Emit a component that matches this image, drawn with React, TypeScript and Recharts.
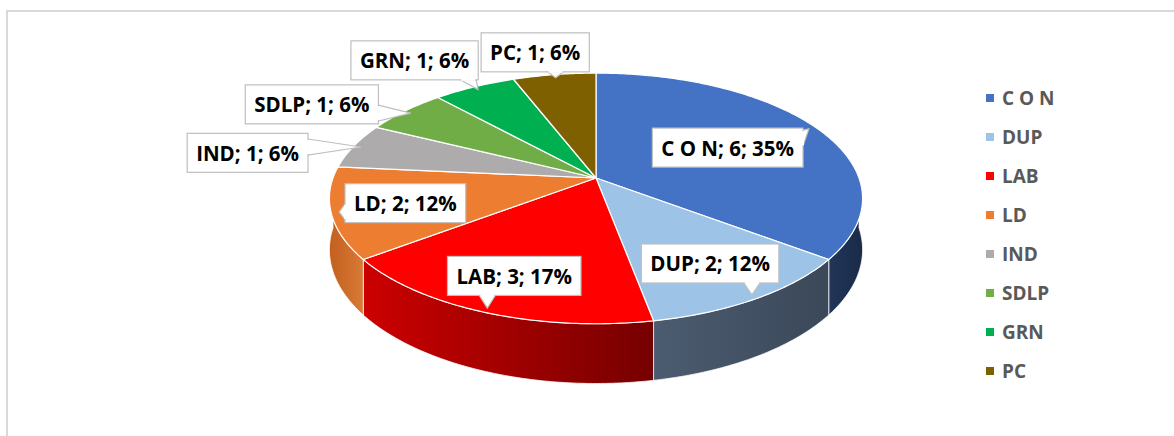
import React from 'react';
import { PieChart, Pie, Cell, Legend } from 'recharts';

// ---------- data ----------
const CATEGORIES = ['C O N', 'DUP', 'LAB', 'LD', 'IND', 'SDLP', 'GRN', 'PC'];
const SEATS = [6, 2, 3, 2, 1, 1, 1, 1];

// ---------- styles ----------
const TOP_COLORS = ['#4472C4', '#9DC3E6', '#FF0000', '#ED7D31', '#ADABAB', '#70AD47', '#00B050', '#7F6000'];
const SIDE_FROM = ['#22365A', '#4C5C70', '#CC0000', '#C2601E', '#7F7F7F', '#4F7B32', '#007A3A', '#5A4400'];
const SIDE_TO = ['#1A2A48', '#3A4859', '#760000', '#D97A37', '#6F6F6F', '#456C2B', '#006830', '#4A3800'];

const FONT = '"Open Sans", "Noto Sans", sans-serif';

// largest-remainder percentages (as Excel displays them, summing to 100)
function roundedPercents(vals: number[]): number[] {
  const total = vals.reduce((a, b) => a + b, 0);
  const exact = vals.map((v) => (v / total) * 100);
  const floors = exact.map((e) => Math.floor(e));
  let left = 100 - floors.reduce((a, b) => a + b, 0);
  const order = exact
    .map((e, i) => ({ i, r: e - Math.floor(e) }))
    .sort((a, b) => b.r - a.r || a.i - b.i);
  const out = floors.slice();
  for (let k = 0; k < order.length && left > 0; k++, left--) out[order[k].i] += 1;
  return out;
}
const PERCENTS = roundedPercents(SEATS);

const data = CATEGORIES.map((name, i) => ({ name, value: SEATS[i] }));

// ---------- geometry (perspective 3D look) ----------
const CX = 596;
const CY = 178; // projected centre of the disc (apex of the slices)
const R = 263;
const TILT_RATIO = 122 / 263; // vertical squash
const PERSP = 0.163; // perspective strength
const DEPTH_RATIO = 50 / 263; // wall height

const RAD = Math.PI / 180;

function proj(cx: number, cy: number, r: number, deg: number, drop = 0) {
  const sn = Math.sin(deg * RAD);
  const cs = Math.cos(deg * RAD);
  const s = 1 / (1 + PERSP * sn);
  return { x: cx + r * cs * s, y: cy - r * TILT_RATIO * sn * s + drop * s };
}

function arcPoints(cx: number, cy: number, r: number, from: number, to: number, drop = 0) {
  const n = Math.max(2, Math.ceil(Math.abs(to - from) / 0.75));
  const pts: string[] = [];
  for (let k = 0; k <= n; k++) {
    const a = from + ((to - from) * k) / n;
    const p = proj(cx, cy, r, a, drop);
    pts.push(`${p.x.toFixed(2)},${p.y.toFixed(2)}`);
  }
  return pts;
}

function Sector3D(props: any) {
  const { cx, cy, outerRadius, startAngle, endAngle, name } = props;
  const idx = Math.max(0, CATEGORIES.indexOf(name));
  const fill = TOP_COLORS[idx];
  const depth = outerRadius * DEPTH_RATIO;
  const a2 = Math.max(startAngle, endAngle);
  const a1 = Math.min(startAngle, endAngle);
  const top = `M${cx},${cy} L${arcPoints(cx, cy, outerRadius, a2, a1).join(' L')} Z`;

  let side: string | null = null;
  const lo = Math.max(a1, -180);
  const hi = Math.min(a2, 0);
  if (hi > lo) {
    const upper = arcPoints(cx, cy, outerRadius, hi, lo);
    const lower = arcPoints(cx, cy, outerRadius, lo, hi, depth);
    side = `M${upper.join(' L')} L${lower.join(' L')} Z`;
  }
  const gid = `side-grad-${idx}`;
  return (
    <g>
      {side && (
        <>
          <defs>
            <linearGradient id={gid} x1="0" y1="0" x2="1" y2="0">
              <stop offset="0%" stopColor={SIDE_FROM[idx]} />
              <stop offset="100%" stopColor={SIDE_TO[idx]} />
            </linearGradient>
          </defs>
          <path d={side} fill={`url(#${gid})`} stroke="#ffffff" strokeWidth={1} strokeOpacity={0.75} strokeLinejoin="round" />
        </>
      )}
      <path d={top} fill={fill} stroke="#ffffff" strokeWidth={1.2} strokeLinejoin="round" />
    </g>
  );
}

// ---------- labels ----------
let measureCtx: CanvasRenderingContext2D | null = null;
function textWidth(t: string, font: string) {
  try {
    if (!measureCtx) measureCtx = document.createElement('canvas').getContext('2d');
    if (measureCtx) {
      measureCtx.font = font;
      return measureCtx.measureText(t).width;
    }
  } catch (e) {
    /* ignore */
  }
  return t.length * 10.5;
}

const LABEL_FONT_SIZE = 20.5;
const BOX_H = 39;
const PAD_X = 9;
const LABEL_GAP = 5;

type Box = { L: number; R: number; T: number; B: number };
const placedBoxes: Record<number, Box> = {};

function renderLabel(props: any) {
  const { cx, cy, outerRadius, midAngle, name, value, index } = props;
  const pct = PERCENTS[index] ?? Math.round((props.percent || 0) * 100);
  const text = `${name}; ${value}; ${pct}%`;
  const w = textWidth(text, `bold ${LABEL_FONT_SIZE}px "Open Sans"`) + PAD_X * 2;
  const h = BOX_H;
  const r = outerRadius;
  // outline ellipse of the projected disc
  const a = r * TILT_RATIO;
  const topY = cy - a / (1 + PERSP);
  const botY = cy + a / (1 - PERSP);
  const ecy = (topY + botY) / 2;
  const ery = (botY - topY) / 2;
  const erx = r / Math.sqrt(1 - PERSP * PERSP);

  const T = proj(cx, cy, r, midAngle);
  const tip = { x: cx + (T.x - cx) * 0.97, y: cy + (T.y - cy) * 0.97 };
  const inside = (props.percent || 0) >= 0.1;
  let c = { x: 0, y: 0 };
  if (inside) {
    const within = (x: number, y: number) => ((x - cx) / erx) ** 2 + ((y - ecy) / ery) ** 2 <= 0.93;
    let f = 0.75;
    for (; f > 0.2; f -= 0.01) {
      const px = cx + (T.x - cx) * f;
      const py = cy + (T.y - cy) * f;
      if (
        within(px - w / 2, py - h / 2) &&
        within(px + w / 2, py - h / 2) &&
        within(px - w / 2, py + h / 2) &&
        within(px + w / 2, py + h / 2)
      )
        break;
    }
    c = { x: cx + (T.x - cx) * f, y: cy + (T.y - cy) * f };
  } else {
    const cs = Math.cos(midAngle * RAD);
    const sn = Math.sin(midAngle * RAD);
    c = { x: T.x + cs * (w / 2 + 50), y: T.y + 18 - 41 * sn };
    // simple collision avoidance with previously placed labels: push upward
    for (let pass = 0; pass < 3; pass++) {
      let moved = false;
      for (let j = 0; j < index; j++) {
        const o = placedBoxes[j];
        if (!o) continue;
        const overlapX = c.x - w / 2 < o.R - 2 && c.x + w / 2 > o.L + 2;
        const overlapY = c.y - h / 2 < o.B + LABEL_GAP && c.y + h / 2 > o.T - LABEL_GAP;
        if (overlapX && overlapY) {
          c.y = o.T - LABEL_GAP - h / 2;
          moved = true;
        }
      }
      if (!moved) break;
    }
  }
  const L = c.x - w / 2;
  const Rt = c.x + w / 2;
  const Tp = c.y - h / 2;
  const B = c.y + h / 2;
  placedBoxes[index] = { L, R: Rt, T: Tp, B };

  const dxo = tip.x < L ? L - tip.x : tip.x > Rt ? tip.x - Rt : 0;
  const dyo = tip.y < Tp ? Tp - tip.y : tip.y > B ? tip.y - B : 0;
  let wedge: { b1: { x: number; y: number }; b2: { x: number; y: number } } | null = null;
  const half = 8;
  if (dxo > 0 || dyo > 0) {
    if (dyo >= dxo) {
      const ey = tip.y < Tp ? Tp : B;
      const bx = Math.min(Math.max(tip.x, L + half + 2), Rt - half - 2);
      wedge = { b1: { x: bx - half, y: ey }, b2: { x: bx + half, y: ey } };
    } else {
      const ex = tip.x < L ? L : Rt;
      const by = Math.min(Math.max(tip.y, Tp + half + 2), B - half - 2);
      wedge = { b1: { x: ex, y: by - half }, b2: { x: ex, y: by + half } };
    }
  }
  const border = '#BFBFBF';
  const horiz = wedge ? wedge.b1.y === wedge.b2.y : false;
  return (
    <g key={`lbl-${index}`}>
      {wedge && (
        <path
          d={`M${wedge.b1.x},${wedge.b1.y} L${tip.x},${tip.y} L${wedge.b2.x},${wedge.b2.y} Z`}
          fill="#ffffff"
          stroke={border}
          strokeWidth={1.2}
        />
      )}
      <rect x={L} y={Tp} width={w} height={h} fill="#ffffff" stroke={border} strokeWidth={1.2} />
      {wedge && (
        <line
          x1={wedge.b1.x + (horiz ? 1 : 0)}
          y1={wedge.b1.y + (horiz ? 0 : 1)}
          x2={wedge.b2.x - (horiz ? 1 : 0)}
          y2={wedge.b2.y - (horiz ? 0 : 1)}
          stroke="#ffffff"
          strokeWidth={2}
        />
      )}
      <text
        x={c.x}
        y={c.y}
        textAnchor="middle"
        dominantBaseline="central"
        fontFamily={FONT}
        fontWeight={700}
        fontSize={LABEL_FONT_SIZE}
        fill="#000000"
      >
        {text}
      </text>
    </g>
  );
}

// ---------- legend ----------
function renderLegend(props: any) {
  const payload = (props.payload || [])
    .slice()
    .sort((p: any, q: any) => CATEGORIES.indexOf(p.value) - CATEGORIES.indexOf(q.value));
  return (
    <div style={{ fontFamily: FONT, fontWeight: 700, fontSize: 19, color: '#595959' }}>
      {payload.map((e: any, i: number) => (
        <div key={i} style={{ display: 'flex', alignItems: 'center', height: 39, whiteSpace: 'nowrap' }}>
          <span
            style={{ display: 'inline-block', width: 8, height: 8, background: e.color, marginRight: 8 }}
          />
          <span>{e.value}</span>
        </div>
      ))}
    </div>
  );
}

export default function App() {
  return (
    <div style={{ position: 'absolute', left: 0, top: 0, width: 1174, height: 436, background: '#ffffff', overflow: 'hidden' }}>
      <div
        style={{
          position: 'absolute',
          left: 6,
          top: 10,
          width: 1200,
          height: 460,
          borderTop: '2px solid #D9D9D9',
          borderLeft: '2px solid #D9D9D9',
          boxSizing: 'border-box',
        }}
      />
      <div style={{ position: 'absolute', left: 0, top: 0 }}>
        <PieChart width={1174} height={436} margin={{ top: 0, right: 0, bottom: 0, left: 0 }}>
          <Pie
            data={data}
            dataKey="value"
            nameKey="name"
            cx={CX}
            cy={CY}
            outerRadius={R}
            startAngle={90}
            endAngle={-270}
            isAnimationActive={false}
            stroke="none"
            shape={Sector3D}
            inactiveShape={Sector3D}
            activeShape={Sector3D}
            label={renderLabel}
            labelLine={false}
          >
            {data.map((d, i) => (
              <Cell key={d.name} fill={TOP_COLORS[i]} />
            ))}
          </Pie>
          <Legend
            layout="vertical"
            verticalAlign="top"
            align="right"
            content={renderLegend}
            wrapperStyle={{ left: 986, top: 78, width: 160 }}
          />
        </PieChart>
      </div>
    </div>
  );
}
